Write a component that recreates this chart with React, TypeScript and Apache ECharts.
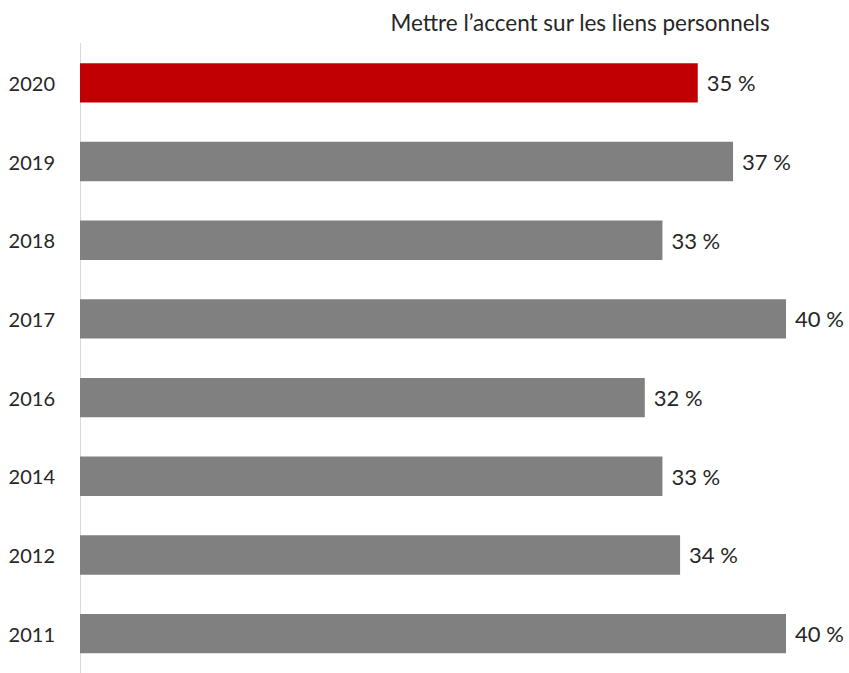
import React, { useEffect, useRef } from "react";
import * as echarts from "echarts";

const years = ["2020", "2019", "2018", "2017", "2016", "2014", "2012", "2011"];
const values = [35, 37, 33, 40, 32, 33, 34, 40];
const barColors = ["#C00000", "#808080", "#808080", "#808080", "#808080", "#808080", "#808080", "#808080"];
const titleText = "Mettre l’accent sur les liens personnels";

export default function App() {
  const ref = useRef<HTMLDivElement>(null);
  useEffect(() => {
    if (!ref.current) return;
    const chart = echarts.init(ref.current, undefined, { renderer: "svg" });
    chart.setOption({
      animation: false,
      backgroundColor: "#ffffff",
      textStyle: { fontFamily: "Lato, 'Open Sans', sans-serif" },
      title: {
        text: titleText,
        left: 575,
        top: 6,
        textAlign: "center",
        textStyle: { fontSize: 22.5, fontWeight: "normal", color: "#262626", fontFamily: "Lato, sans-serif" },
      },
      grid: { left: 80, width: 706, top: 43.5, height: 636, containLabel: false },
      xAxis: {
        type: "value",
        min: 0,
        max: 40,
        show: false,
      },
      yAxis: {
        type: "category",
        data: years,
        inverse: true,
        axisLine: { show: true, lineStyle: { color: "#d9d9d9", width: 1 } },
        axisTick: { show: false },
        axisLabel: { color: "#262626", fontSize: 20, margin: 25, fontFamily: "Lato, sans-serif" },
        splitLine: { show: false },
      },
      series: [
        {
          type: "bar",
          data: values.map((v, i) => ({ value: v, itemStyle: { color: barColors[i] } })),
          barCategoryGap: "50%",
          label: {
            show: true,
            position: "right",
            distance: 9,
            formatter: (p: any) => `${p.value} %`,
            color: "#262626",
            fontSize: 22,
            fontFamily: "Lato, sans-serif",
          },
        },
      ],
    });
    return () => chart.dispose();
  }, []);
  return <div ref={ref} style={{ position: "fixed", left: 0, top: 0, width: 849, height: 673 }} />;
}
